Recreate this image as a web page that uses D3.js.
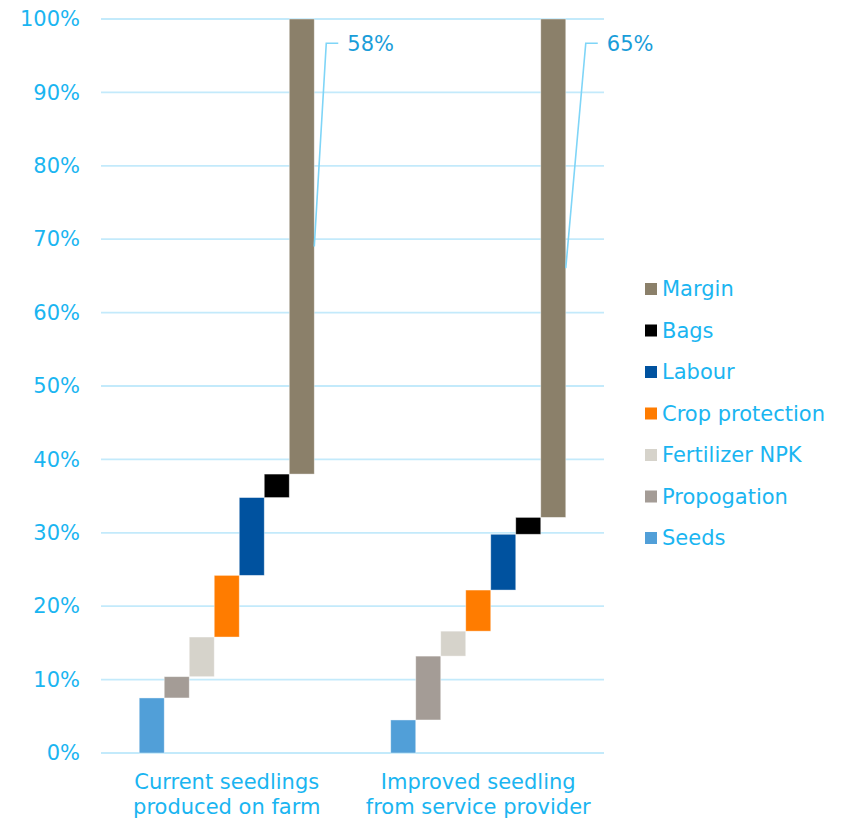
<!DOCTYPE html>
<html>
<head>
<meta charset="utf-8">
<script src="https://cdn.jsdelivr.net/npm/d3@7"></script>
<style>
  html, body { margin: 0; padding: 0; background: #fff; }
  #chart { width: 844px; height: 818px; overflow: hidden; }
  text { font-family: "DejaVu Sans", Verdana, sans-serif; }
</style>
</head>
<body>
<div id="chart"></div>
<script>
// chart values
var categories = ["Current seedlings produced on farm", "Improved seedling from service provider"];
var categoryLines = [["Current seedlings", "produced on farm"], ["Improved seedling", "from service provider"]];
var components = ["Seeds", "Propogation", "Fertilizer NPK", "Crop protection", "Labour", "Bags", "Margin"];
var currentValues = [7.5, 2.9, 5.4, 8.4, 10.6, 3.2, 62.0];
var improvedValues = [4.5, 8.7, 3.4, 5.6, 7.6, 2.3, 67.9];
var marginLabels = ["58%", "65%"];
var yTicks = [0, 10, 20, 30, 40, 50, 60, 70, 80, 90, 100];

var colors = ["#519fd8", "#a49c96", "#d6d3cb", "#ff7c00", "#00529f", "#000000", "#8b806a"];
var axisColor = "#1ab5f1";

var render = function() {
  let width = 844, height = 818;
  let plot = { left: 101, right: 604, top: 19, bottom: 753 };

  d3.select("#chart").html("");

  let svg = d3.select("#chart")
    .append("svg")
    .attr("width", width)
    .attr("height", height);

  let xScale = d3.scaleBand()
    .domain(categories)
    .range([plot.left, plot.right])
    .paddingInner(0.304)
    .paddingOuter(0.152);

  let xInner = d3.scaleBand()
    .domain(components)
    .range([0, xScale.bandwidth()])
    .padding(0);

  let yScale = d3.scaleLinear()
    .domain([0, 100])
    .range([plot.bottom, plot.top]);

  // grid lines
  svg.append("g")
    .selectAll("line")
    .data(yTicks)
    .enter()
    .append("line")
    .attr("x1", plot.left)
    .attr("x2", plot.right)
    .attr("y1", (d) => yScale(d))
    .attr("y2", (d) => yScale(d))
    .attr("stroke", "#c3eafb")
    .attr("stroke-width", 1.8);

  // y axis labels
  let yAxis = d3.axisLeft(yScale)
    .tickValues(yTicks)
    .tickFormat((d) => d + "%")
    .tickSize(0)
    .tickPadding(21);
  let yg = svg.append("g")
    .attr("transform", "translate(" + plot.left + ",0)")
    .call(yAxis);
  yg.select(".domain").remove();
  yg.selectAll("text")
    .attr("fill", axisColor)
    .style("font-size", "21px")
    .style("font-family", "'DejaVu Sans', Verdana, sans-serif");

  // waterfall bars
  let series = [currentValues, improvedValues];
  let rows = [];
  series.forEach(function (vals, ci) {
    let base = 0;
    vals.forEach(function (v, i) {
      rows.push({ cat: categories[ci], comp: components[i], y0: base, y1: base + v, color: colors[i] });
      base += v;
    });
  });

  svg.append("g")
    .selectAll("rect")
    .data(rows)
    .enter()
    .append("rect")
    .attr("x", (d) => xScale(d.cat) + xInner(d.comp))
    .attr("width", xInner.bandwidth())
    .attr("y", (d) => yScale(d.y1))
    .attr("height", (d) => yScale(d.y0) - yScale(d.y1))
    .attr("fill", (d) => d.color)
    .attr("stroke", "#ffffff")
    .attr("stroke-opacity", 0.5)
    .attr("stroke-width", 0.8);

  // margin callouts
  let elbowDx = [12, 20];
  let marginRows = rows.filter((d) => d.comp == "Margin");
  marginRows.forEach(function (d, i) {
    let xEnd = xScale(d.cat) + xInner("Margin") + xInner.bandwidth();
    let yEnd = yScale((d.y0 + d.y1) / 2);
    let xElbow = xEnd + elbowDx[i];
    let yElbow = yScale(96.7);
    svg.append("polyline")
      .attr("points", [[xEnd, yEnd], [xElbow, yElbow], [xElbow + 12, yElbow]].map((p) => p.join(",")).join(" "))
      .attr("fill", "none")
      .attr("stroke", "#7fd5f7")
      .attr("stroke-width", 1.6);
    svg.append("text")
      .attr("x", xElbow + 21)
      .attr("y", yElbow)
      .attr("dy", "0.35em")
      .attr("fill", "#1a9dd9")
      .style("font-size", "21px")
      .text(marginLabels[i]);
  });

  // category labels
  categories.forEach(function (c, i) {
    let cx = xScale(c) + xScale.bandwidth() / 2;
    categoryLines[i].forEach(function (line, j) {
      svg.append("text")
        .attr("x", cx)
        .attr("y", 789 + j * 25)
        .attr("text-anchor", "middle")
        .attr("fill", axisColor)
        .style("font-size", "21px")
        .text(line);
    });
  });

  // legend, top-down in reverse stacking order
  let legendItems = components.map((c, i) => ({ name: c, color: colors[i] })).reverse();
  let legend = svg.append("g")
    .attr("transform", "translate(645,289)");
  let item = legend.selectAll("g")
    .data(legendItems)
    .enter()
    .append("g")
    .attr("transform", (d, i) => "translate(0," + (i * 41.5) + ")");
  item.append("rect")
    .attr("x", 0)
    .attr("y", -6)
    .attr("width", 12)
    .attr("height", 12)
    .attr("fill", (d) => d.color);
  item.append("text")
    .attr("x", 17)
    .attr("y", 0)
    .attr("dy", "0.35em")
    .attr("fill", axisColor)
    .style("font-size", "21px")
    .text((d) => d.name);
};

render();
</script>
</body>
</html>
